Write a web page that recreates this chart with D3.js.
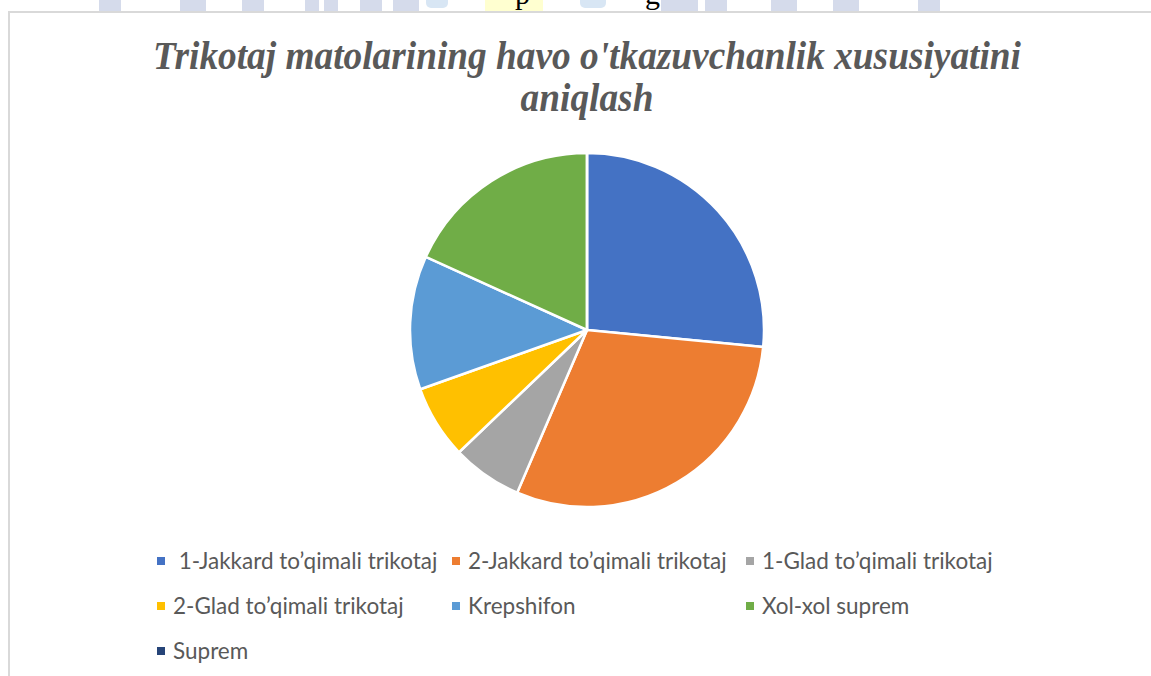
<!DOCTYPE html>
<html>
<head>
<meta charset="utf-8">
<script src="https://cdn.jsdelivr.net/npm/d3@7"></script>
<style>
  html, body { margin: 0; padding: 0; background: #fff; }
  svg { display: block; }
</style>
</head>
<body>
<div id="vis"></div>
<script>
// Data (share of the pie, in tenths of a percent)
const categories = [
  " 1-Jakkard to\u2019qimali trikotaj",
  "2-Jakkard to\u2019qimali trikotaj",
  "1-Glad to\u2019qimali trikotaj",
  "2-Glad to\u2019qimali trikotaj",
  "Krepshifon",
  "Xol-xol suprem",
  "Suprem"
];
const values = [265, 299, 64, 67, 122, 182, 0];
const colors = ["#4472C4", "#ED7D31", "#A5A5A5", "#FFC000", "#5B9BD5", "#70AD47", "#264478"];
const titleLines = ["Trikotaj matolarining havo o'tkazuvchanlik xususiyatini", "aniqlash"];

const width = 1151;
const height = 676;

const svg = d3.select("#vis")
  .append("svg")
  .attr("width", width)
  .attr("height", height);

// page strip above the chart (cut-off document text / watermark)
const strip = [[99, 22], [180, 26], [242, 22], [305, 14], [324, 14], [360, 22], [393, 26], [661, 37], [705, 22], [771, 26], [833, 26], [918, 22]];
svg.selectAll(".wm")
  .data(strip)
  .join("rect")
  .attr("x", d => d[0])
  .attr("y", 0)
  .attr("width", d => d[1])
  .attr("height", 11)
  .attr("fill", "#d5dbeb");
svg.append("rect").attr("x", 426).attr("y", -6).attr("width", 22).attr("height", 14).attr("rx", 5).attr("fill", "#d8e6f4");
svg.append("rect").attr("x", 580).attr("y", -6).attr("width", 26).attr("height", 14).attr("rx", 5).attr("fill", "#d8e6f4");
svg.append("rect").attr("x", 485).attr("y", 0).attr("width", 58).attr("height", 11).attr("fill", "#ffffd0");
svg.append("text").attr("x", 515).attr("y", 4).attr("font-family", "Liberation Serif").attr("font-size", 30).attr("fill", "#000").text("p");
svg.append("text").attr("x", 645).attr("y", 4).attr("font-family", "Liberation Serif").attr("font-size", 30).attr("fill", "#000").text("g");

// chart area
svg.append("rect")
  .attr("x", 9)
  .attr("y", 12)
  .attr("width", width + 20)
  .attr("height", height + 20)
  .attr("fill", "#fff")
  .attr("stroke", "#d9d9d9")
  .attr("stroke-width", 2);

// title (slightly condensed, like the source)
const titleG = svg.append("g");
const title = titleG.append("text")
  .attr("text-anchor", "middle")
  .attr("font-family", "Liberation Serif, Times New Roman, serif")
  .attr("font-style", "italic")
  .attr("font-weight", "bold")
  .attr("font-size", 40)
  .attr("fill", "#595959");
title.selectAll("tspan")
  .data(titleLines)
  .join("tspan")
  .attr("x", 0)
  .attr("y", (d, i) => 69 + i * 42)
  .text(d => d);
const firstLine = title.select("tspan").node().getComputedTextLength();
const sx = 868 / firstLine;
titleG.attr("transform", `translate(587,0) scale(${sx},1)`);

// pie
const cx = 587, cy = 330, radius = 177;
const pie = d3.pie().sort(null).value(d => d.value);
const arc = d3.arc().innerRadius(0).outerRadius(radius);
const rows = categories.map((c, i) => ({ name: c, value: values[i], color: colors[i] }));

svg.append("g")
  .attr("transform", `translate(${cx},${cy})`)
  .selectAll("path")
  .data(pie(rows))
  .join("path")
  .attr("d", arc)
  .attr("fill", d => d.data.color)
  .attr("stroke", "#fff")
  .attr("stroke-width", 2.5)
  .attr("stroke-linejoin", "round");

// legend
const colX = [157, 452, 746];
const rowY = [561, 606, 651];
const legend = svg.append("g")
  .selectAll("g")
  .data(rows)
  .join("g")
  .attr("transform", (d, i) => `translate(${colX[i % 3]},${rowY[Math.floor(i / 3)]})`);

legend.append("rect")
  .attr("x", 0)
  .attr("y", -4)
  .attr("width", 8)
  .attr("height", 8)
  .attr("fill", d => d.color);

legend.append("text")
  .attr("x", 16)
  .attr("y", 7.5)
  .attr("font-family", "Lato, Open Sans, sans-serif")
  .attr("font-size", 22.5)
  .attr("fill", "#595959")
  .style("white-space", "pre")
  .text(d => d.name);
</script>
</body>
</html>
